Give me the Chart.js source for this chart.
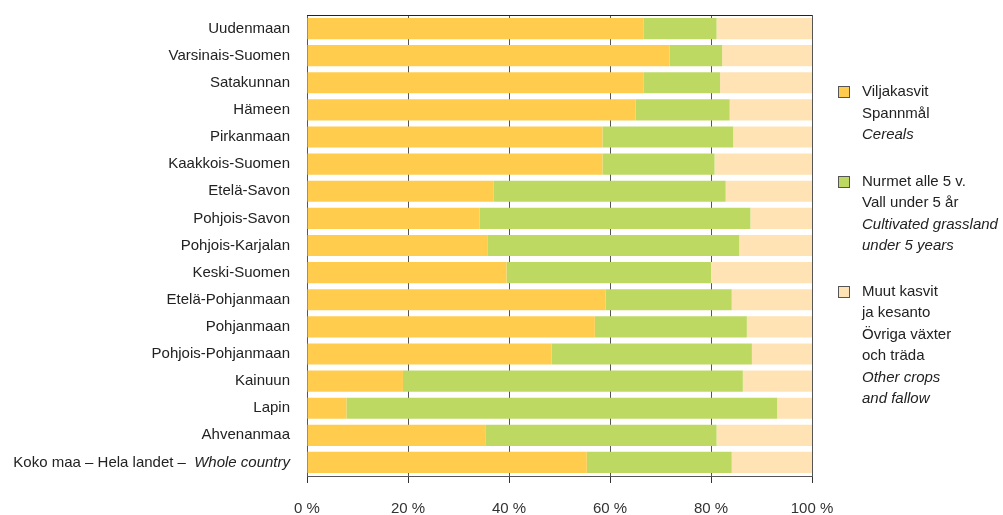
<!DOCTYPE html>
<html>
<head>
<meta charset="utf-8">
<script src="https://cdn.jsdelivr.net/npm/chart.js@4/dist/chart.umd.min.js"></script>
<style>
  body { margin: 0; background: #fff; }
  #wrap { position: relative; width: 1003px; height: 515px; }
  #legend { position: absolute; left: 838px; top: 80px; font-family: "Liberation Sans Narrow", "Liberation Sans", Arial, sans-serif; font-size: 15px; color: #222; }
  .item { position: relative; padding-left: 24px; line-height: 21.5px; }
  .item i { font-style: italic; }
  .box { position: absolute; left: 0; top: 6px; width: 10px; height: 10px; border: 1px solid #555; }
</style>
</head>
<body>
<div id="wrap">
  <canvas id="chart_1" width="1003" height="515"></canvas>
  <div id="legend">
    <div class="item" style="top:0px"><span class="box" style="background:#FFCC4E"></span>Viljakasvit<br>Spannmål<br><i>Cereals</i></div>
    <div class="item" style="top:25px"><span class="box" style="background:#BED962"></span>Nurmet alle 5 v.<br>Vall under 5 år<br><i>Cultivated grassland</i><br><i>under 5 years</i></div>
    <div class="item" style="top:49px"><span class="box" style="background:#FFE3B5"></span>Muut kasvit<br>ja kesanto<br>Övriga växter<br>och träda<br><i>Other crops</i><br><i>and fallow</i></div>
  </div>
</div>
<script>
const regions = ['Uudenmaan', 'Varsinais-Suomen', 'Satakunnan', 'Hämeen', 'Pirkanmaan',
  'Kaakkois-Suomen', 'Etelä-Savon', 'Pohjois-Savon', 'Pohjois-Karjalan', 'Keski-Suomen',
  'Etelä-Pohjanmaan', 'Pohjanmaan', 'Pohjois-Pohjanmaan', 'Kainuun', 'Lapin', 'Ahvenanmaa',
  'Koko maa – Hela landet – |Whole country'];
const cereals = [66.6, 71.8, 66.6, 65.1, 58.5, 58.5, 36.9, 34.2, 35.7, 39.5, 59.1, 57.0, 48.4, 19.0, 7.8, 35.3, 55.4];
const grassland = [14.5, 10.4, 15.2, 18.6, 25.9, 22.2, 46.0, 53.6, 49.9, 40.5, 25.0, 30.1, 39.7, 67.3, 85.3, 45.8, 28.7];
const otherCrops = [18.9, 17.8, 18.2, 16.3, 15.6, 19.3, 17.1, 12.2, 14.4, 20.0, 15.9, 12.9, 11.9, 13.7, 6.9, 18.9, 15.9];
const xTicks = [0, 20, 40, 60, 80, 100];

const FONT = '"Liberation Sans Narrow", "Liberation Sans", Arial, sans-serif';

// draws the region names and the top frame line
const labelsPlugin = {
    id: 'labels',
    afterDraw(chart) {
        const ctx = chart.ctx;
        const y = chart.scales.y;
        const area = chart.chartArea;
        ctx.save();
        ctx.strokeStyle = '#222';
        ctx.lineWidth = 1;
        ctx.beginPath();
        ctx.moveTo(area.left, area.top + 0.5);
        ctx.lineTo(area.right, area.top + 0.5);
        ctx.stroke();

        ctx.fillStyle = '#222';
        ctx.textBaseline = 'middle';
        ctx.textAlign = 'right';
        regions.forEach((r, i) => {
            const py = y.getPixelForValue(i);
            const parts = r.split('|');
            let x = area.left - 17;
            if (parts.length > 1) {
                ctx.font = 'italic 15px ' + FONT;
                ctx.fillText(parts[1], x, py);
                x -= ctx.measureText(parts[1]).width + 4;
            }
            ctx.font = '15px ' + FONT;
            ctx.fillText(parts[0], x, py);
        });
        ctx.restore();
    }
};

const ctx = document.getElementById('chart_1').getContext('2d');
const myChart = new Chart(ctx, {
    type: 'bar',
    data: {
        labels: regions,
        datasets: [
            { label: 'Viljakasvit', data: cereals, backgroundColor: '#FFCC4E' },
            { label: 'Nurmet alle 5 v.', data: grassland, backgroundColor: '#BED962' },
            { label: 'Muut kasvit ja kesanto', data: otherCrops, backgroundColor: '#FFE3B5' }
        ]
    },
    options: {
        indexAxis: 'y',
        responsive: false,
        animation: false,
        layout: { padding: { left: 307, right: 191, top: 15, bottom: 0 } },
        datasets: { bar: { categoryPercentage: 1, barPercentage: 0.78 } },
        plugins: { legend: { display: false }, tooltip: { enabled: false } },
        scales: {
            x: {
                stacked: true,
                min: 0,
                max: 100,
                afterBuildTicks: (s) => { s.ticks = xTicks.map(v => ({ value: v })); },
                afterFit: (s) => { s.height = 39; },
                grid: { color: '#555', tickLength: 7, tickColor: '#333' },
                border: { color: '#555' },
                ticks: {
                    color: '#333',
                    padding: 17,
                    font: { family: FONT, size: 15 },
                    callback: (v) => v + ' %'
                }
            },
            y: {
                stacked: true,
                display: false
            }
        }
    },
    plugins: [labelsPlugin]
});
</script>
</body>
</html>
